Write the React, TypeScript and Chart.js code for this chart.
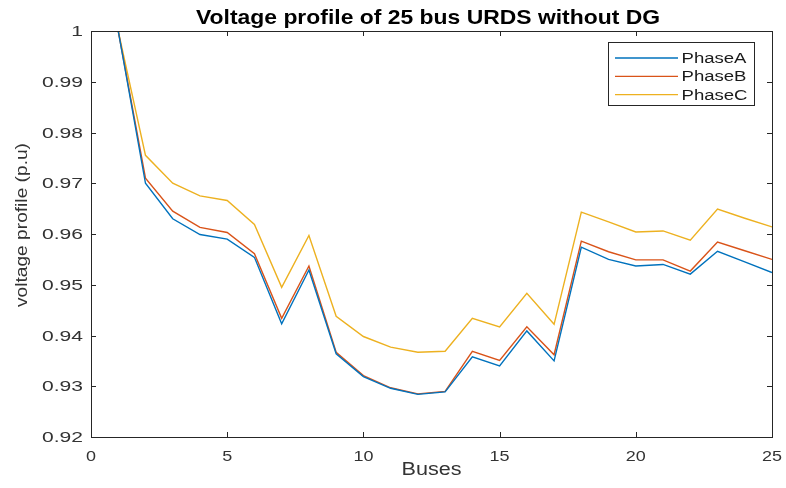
import React, { useEffect, useRef } from "react";
import { Chart, registerables } from "chart.js";

Chart.register(...registerables);

const buses = [1, 2, 3, 4, 5, 6, 7, 8, 9, 10, 11, 12, 13, 14, 15, 16, 17, 18, 19, 20, 21, 22, 23, 24, 25];
const phaseA = [1.0, 0.9700, 0.9630, 0.9599, 0.9590, 0.9554, 0.9423, 0.9529, 0.9364, 0.9319, 0.9296, 0.9284, 0.9289, 0.9358, 0.9340, 0.9409, 0.9350, 0.9574, 0.9550, 0.9537, 0.9540, 0.9521, 0.9566, 0.9545, 0.9524];
const phaseB = [1.0, 0.9710, 0.9645, 0.9613, 0.9603, 0.9561, 0.9434, 0.9537, 0.9367, 0.9321, 0.9297, 0.9285, 0.9290, 0.9369, 0.9351, 0.9417, 0.9362, 0.9586, 0.9565, 0.9549, 0.9549, 0.9527, 0.9584, 0.9567, 0.9550];
const phaseC = [1.0, 0.9755, 0.9700, 0.9675, 0.9666, 0.9619, 0.9495, 0.9597, 0.9438, 0.9398, 0.9377, 0.9367, 0.9369, 0.9434, 0.9417, 0.9483, 0.9422, 0.9643, 0.9624, 0.9604, 0.9606, 0.9588, 0.9649, 0.9631, 0.9614];
const seriesNames = ["PhaseA", "PhaseB", "PhaseC"];
const seriesColors = ["#0072BD", "#D95319", "#EDB120"];
const titleText = "Voltage profile of 25 bus URDS without DG";
const xLabel = "Buses";
const yLabel = "voltage profile (p.u)";

const FONT = "'Liberation Sans', Arial, sans-serif";
const AXIS = "#262626";

function fmtY(v: number) {
  const n = Math.round(v * 100) / 100;
  return n === 1 ? "1" : n.toFixed(2);
}

function stretchText(ctx: CanvasRenderingContext2D, text: string, x: number, y: number, width: number) {
  const w = ctx.measureText(text).width;
  const s = width / w;
  ctx.save();
  ctx.translate(x, y);
  ctx.scale(s, 1);
  ctx.fillText(text, 0, 0);
  ctx.restore();
}

function scaledText(ctx: CanvasRenderingContext2D, text: string, x: number, y: number, s: number, align: CanvasTextAlign) {
  ctx.save();
  ctx.translate(x, y);
  ctx.scale(s, 1);
  ctx.textAlign = align;
  ctx.fillText(text, 0, 0);
  ctx.restore();
}

const decorPlugin = {
  id: "decor",
  afterDraw(chart: any) {
    const ctx: CanvasRenderingContext2D = chart.ctx;
    const a = chart.chartArea;
    const xs = chart.scales.x;
    const ys = chart.scales.y;
    ctx.save();
    // box
    ctx.strokeStyle = AXIS;
    ctx.lineWidth = 1;
    ctx.strokeRect(Math.round(a.left) + 0.5, Math.round(a.top) + 0.5, Math.round(a.right - a.left), Math.round(a.bottom - a.top));
    // inward ticks
    ctx.beginPath();
    const tl = 5;
    xs.ticks.forEach((t: any) => {
      const px = Math.round(xs.getPixelForValue(t.value)) + 0.5;
      ctx.moveTo(px, a.bottom);
      ctx.lineTo(px, a.bottom - tl);
      ctx.moveTo(px, a.top);
      ctx.lineTo(px, a.top + tl);
    });
    ys.ticks.forEach((t: any) => {
      const py = Math.round(ys.getPixelForValue(t.value)) + 0.5;
      ctx.moveTo(a.left, py);
      ctx.lineTo(a.left + tl, py);
      ctx.moveTo(a.right, py);
      ctx.lineTo(a.right - tl, py);
    });
    ctx.stroke();

    // tick labels
    ctx.fillStyle = "#333";
    ctx.textBaseline = "alphabetic";
    ctx.font = `14px ${FONT}`;
    const ys0 = 41 / ctx.measureText("0.95").width;
    ys.ticks.forEach((t: any) => {
      const py = ys.getPixelForValue(t.value);
      scaledText(ctx, fmtY(t.value), a.left - 8, py + 5, ys0, "right");
    });
    ctx.font = `15px ${FONT}`;
    const xs0 = 20 / ctx.measureText("20").width;
    xs.ticks.forEach((t: any) => {
      const px = xs.getPixelForValue(t.value);
      scaledText(ctx, String(Math.round(t.value)), px, 460.5, xs0, "center");
    });
    ctx.textAlign = "left";

    // title
    ctx.fillStyle = "#000";
    ctx.font = `bold 21px ${FONT}`;
    stretchText(ctx, titleText, 196, 23.5, 464);

    // x label
    ctx.fillStyle = "#333";
    ctx.font = `18px ${FONT}`;
    const cx = (a.left + a.right) / 2;
    stretchText(ctx, xLabel, cx - 30, 475, 60);

    // y label
    ctx.save();
    ctx.translate(27, 307);
    ctx.rotate(-Math.PI / 2);
    ctx.font = `17px ${FONT}`;
    stretchText(ctx, yLabel, 0, 0, 164);
    ctx.restore();

    // legend
    const lx0 = 608.5, ly0 = 42.5, lw = 146, lh = 63;
    ctx.fillStyle = "#fff";
    ctx.fillRect(lx0, ly0, lw, lh);
    ctx.strokeStyle = AXIS;
    ctx.lineWidth = 1;
    ctx.strokeRect(lx0, ly0, lw, lh);
    ctx.font = `14px ${FONT}`;
    const scl = 65 / ctx.measureText("PhaseA").width;
    chart.data.datasets.forEach((ds: any, i: number) => {
      const base = 63 + i * 18.3;
      const ly = base - 5;
      ctx.strokeStyle = ds.borderColor;
      ctx.lineWidth = 1.3;
      ctx.beginPath();
      ctx.moveTo(615, ly);
      ctx.lineTo(678, ly);
      ctx.stroke();
      ctx.fillStyle = "#1a1a1a";
      ctx.save();
      ctx.translate(681.5, base);
      ctx.scale(scl, 1);
      ctx.fillText(ds.label, 0, 0);
      ctx.restore();
    });
    ctx.restore();
  },
};

export default function App() {
  const ref = useRef<HTMLCanvasElement | null>(null);
  useEffect(() => {
    document.body.style.margin = "0";
    const series = [phaseA, phaseB, phaseC];
    const chart = new Chart(ref.current as HTMLCanvasElement, {
      type: "line",
      data: {
        datasets: series.map((vals, i) => ({
          label: seriesNames[i],
          data: buses.map((b, j) => ({ x: b, y: vals[j] })),
          borderColor: seriesColors[i],
          backgroundColor: seriesColors[i],
          borderWidth: 1.4,
          pointRadius: 0,
          tension: 0,
          fill: false,
        })),
      },
      options: {
        animation: false,
        responsive: false,
        devicePixelRatio: 1,
        layout: { padding: { top: 31, right: 14, left: 0, bottom: 0 } },
        plugins: {
          legend: { display: false },
          title: { display: false },
          tooltip: { enabled: false },
        },
        scales: {
          x: {
            type: "linear",
            min: 0,
            max: 25,
            grid: { display: false, drawTicks: false },
            border: { display: false },
            ticks: {
              stepSize: 5,
              display: false,
            },
            afterFit: (s: any) => {
              s.height = 51;
            },
          },
          y: {
            min: 0.92,
            max: 1,
            grid: { display: false, drawTicks: false },
            border: { display: false },
            ticks: {
              stepSize: 0.01,
              display: false,
            },
            afterFit: (s: any) => {
              s.width = 91;
            },
          },
        },
      } as any,
      plugins: [decorPlugin],
    });
    return () => chart.destroy();
  }, []);
  return (
    <div style={{ position: "absolute", left: 0, top: 0, width: 786, height: 488, background: "#fff" }}>
      <canvas ref={ref} width={786} height={488} />
    </div>
  );
}
